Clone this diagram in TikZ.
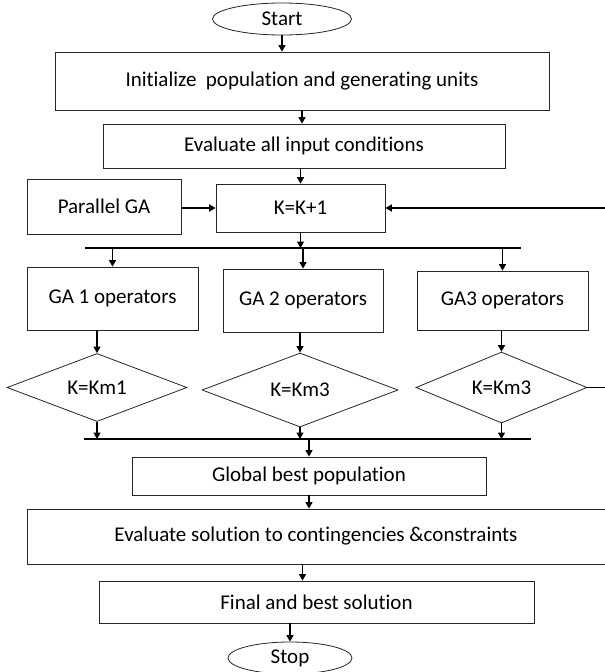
\documentclass[tikz,border=0pt]{standalone}
\usepackage{fontspec}
\setmainfont{Carlito}[Ligatures=NoCommon]
\usetikzlibrary{arrows.meta,shapes.geometric}

\begin{document}
\begin{tikzpicture}[x=1pt, y=-1pt,
    proc/.style={rectangle, draw=black!85, line width=0.8pt, inner sep=0pt, align=center,
      font=\fontsize{21}{25}\selectfont},
    term/.style={ellipse, draw=black!85, line width=0.8pt, inner sep=0pt,
      font=\fontsize{21}{25}\selectfont},
    cond/.style={diamond, aspect=2.5, draw=black!85, line width=0.8pt, inner sep=0pt,
      font=\fontsize{21}{25}\selectfont},
    arr/.style={-{Triangle[length=6.5pt,width=7pt]}, line width=1.4pt},
    bus/.style={line width=2.2pt}
  ]
    \useasboundingbox (0,0) rectangle (605,672);

    % Top of the chart
    \node[term, minimum width=139pt, minimum height=32pt] (start) at (282,19) {Start};
    \node[proc, minimum width=494pt, minimum height=58pt] (init) at (302,81) {Initialize~ population and generating units};
    \node[proc, minimum width=402pt, minimum height=44pt] (evalin) at (304,146) {Evaluate all input conditions};
    \node[proc, minimum width=154pt, minimum height=55pt] (par) at (104,206.5) {Parallel GA};
    \node[proc, minimum width=169pt, minimum height=48pt] (kk) at (300.5,208) {K=K+1};

    % Parallel branches
    \node[proc, minimum width=171pt, minimum height=63pt] (ga1) at (112.5,298.5) {GA 1 operators};
    \node[proc, minimum width=160pt, minimum height=63pt] (ga2) at (303,300.5) {GA 2 operators};
    \node[proc, minimum width=171pt, minimum height=59pt] (ga3) at (502.5,300.5) {GA3 operators};
    \node[cond, minimum width=180pt, minimum height=68pt] (d1) at (97,387.5) {K=Km1};
    \node[cond, minimum width=196pt, minimum height=74pt] (d2) at (300,390) {K=Km3};
    \node[cond, minimum width=171pt, minimum height=71pt] (d3) at (501.5,387.5) {K=Km3};

    % Bottom of the chart
    \node[proc, minimum width=354pt, minimum height=38pt] (glob) at (309,476) {Global best population};
    \node[proc, minimum width=590pt, minimum height=55pt] (evsol) at (322,536.5) {};
    \node[font=\fontsize{21}{25}\selectfont, inner sep=0pt] (evsoltxt) at (316,536.5) {Evaluate solution to contingencies \&constraints};
    \node[proc, minimum width=435pt, minimum height=42pt] (final) at (316.5,602) {Final and best solution};
    \node[term, minimum width=124pt, minimum height=32pt] (stop) at (290,658) {Stop};

    % Split and join bars
    \coordinate (b1l) at (85,248);  \coordinate (b1r) at (521,248);
    \coordinate (b2l) at (84,439);  \coordinate (b2r) at (531,439);
    \draw[bus] (b1l) -- (b1r);
    \draw[bus] (b2l) -- (b2r);

    % Loose ends at the right edge
    \coordinate (fbin) at (605,208);
    \coordinate (d3out) at (605,387.5);

    % Connectors
    \draw[arr] (start.south) -- (start.south |- init.north);
    \draw[arr] (init.south) -- (init.south |- evalin.north);
    \draw[arr] (kk.north |- evalin.south) -- (kk.north);
    \draw[arr] (par.east |- kk.west) -- (kk.west);
    \draw[arr, line width=1.8pt] (fbin) -- (kk.east);
    \draw[arr] (kk.south) -- (kk.south |- b1l);
    \draw[arr] (ga1.north |- b1l) -- (ga1.north);
    \draw[arr] (ga2.north |- b1l) -- (ga2.north);
    \draw[arr] (ga3.north |- b1l) -- (ga3.north);
    \draw[arr] (d1.north |- ga1.south) -- (d1.north);
    \draw[arr] (d2.north |- ga2.south) -- (d2.north);
    \draw[arr] (d3.north |- ga3.south) -- (d3.north);
    \draw[arr] (d1.south) -- (d1.south |- b2l);
    \draw[arr] (d2.south) -- (d2.south |- b2l);
    \draw[arr] (d3.south) -- (d3.south |- b2l);
    \draw[line width=1.3pt] (d3.east) -- (d3out);
    \draw[arr] (glob.north |- b2l) -- (glob.north);
    \draw[arr] (glob.south) -- (glob.south |- evsol.north);
    \draw[arr] ([xshift=-14pt]final.north |- evsol.south) -- ([xshift=-14pt]final.north);
    \draw[arr] (stop.north |- final.south) -- (stop.north);
\end{tikzpicture}
\end{document}
